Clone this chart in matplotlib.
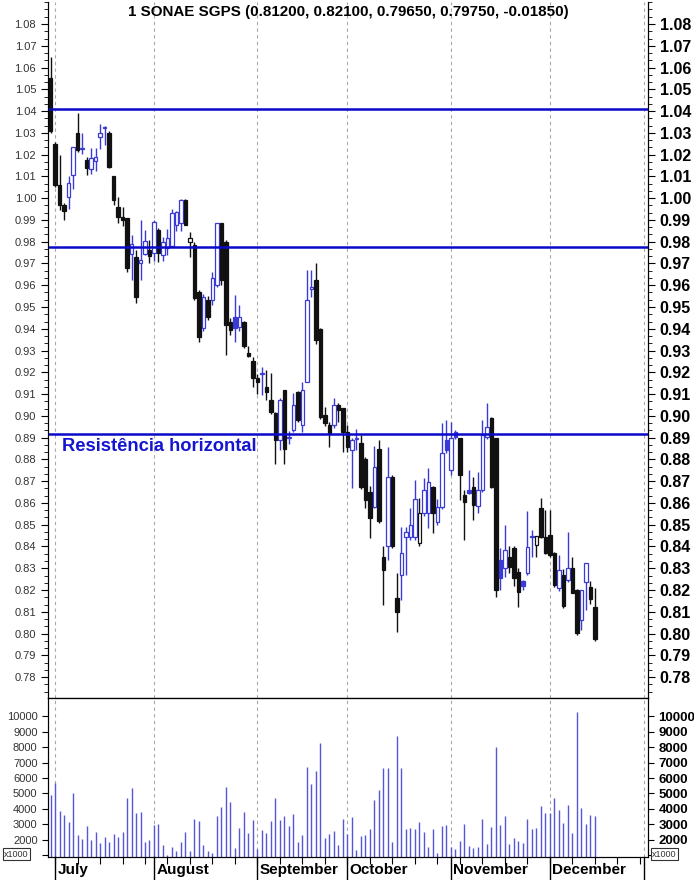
import numpy as np
import matplotlib
import matplotlib.pyplot as plt
from matplotlib.patches import Rectangle
from matplotlib.ticker import FixedLocator, AutoMinorLocator, MultipleLocator
from matplotlib import font_manager
import matplotlib.transforms as mtransforms

plt.rcParams['font.family'] = ['Liberation Sans', 'DejaVu Sans']

# daily candles, 29 Jun -> mid Dec
opens = [1.055, 1.025, 1.006, 0.997, 1.0007, 1.0105, 1.030, 1.0225, 1.0175, 1.0133,
         1.0172, 1.028, 1.0322, 1.030, 1.010, 0.996, 0.9915, 0.991, 0.9745, 0.973,
         0.970, 0.9744, 0.976, 0.9747, 0.9855, 0.974, 0.977, 0.9778, 0.9877, 0.9885,
         0.999, 0.980, 0.9785, 0.957, 0.9402, 0.953, 0.9532, 0.960, 0.9885, 0.980,
         0.943, 0.9456, 0.941, 0.9433, 0.929, 0.925, 0.9173, 0.919, 0.9134, 0.9073,
         0.9012, 0.889, 0.9118, 0.890, 0.8935, 0.9111, 0.8958, 0.9157, 0.9581, 0.9624,
         0.940, 0.9004, 0.8958, 0.8958, 0.905, 0.9034, 0.8927, 0.8843, 0.8893, 0.8875,
         0.880, 0.8652, 0.8583, 0.885, 0.8353, 0.840, 0.872, 0.8162, 0.8269, 0.8445,
         0.8445, 0.8445, 0.8415, 0.8553, 0.8555, 0.8675, 0.8514, 0.8583, 0.8889, 0.8751,
         0.8927, 0.8897, 0.8637, 0.866, 0.8675, 0.8585, 0.866, 0.8904, 0.8989, 0.8897,
         0.8338, 0.830, 0.8353, 0.8392, 0.8284, 0.8243, 0.8277, 0.8445, 0.8405, 0.8575,
         0.8445, 0.8453, 0.8369, 0.8208, 0.8269, 0.8246, 0.830, 0.820, 0.8062, 0.8238,
         0.8215, 0.812]
highs = [1.065, 1.026, 1.020, 0.998, 1.010, 1.0235, 1.039, 1.030, 1.0188, 1.0229,
         1.0229, 1.034, 1.033, 1.031, 1.010, 1.0005, 0.996, 0.991, 0.983, 0.976,
         0.990, 0.9854, 0.9808, 0.990, 0.9865, 0.982, 0.986, 0.995, 0.994, 0.9995,
         0.9995, 0.9846, 0.980, 0.958, 0.956, 0.955, 0.966, 0.9885, 0.9885, 0.981,
         0.945, 0.9555, 0.951, 0.9435, 0.932, 0.927, 0.919, 0.9226, 0.921, 0.9195,
         0.902, 0.908, 0.912, 0.893, 0.9104, 0.9115, 0.9157, 0.967, 0.967, 0.970,
         0.9405, 0.904, 0.897, 0.908, 0.906, 0.9035, 0.896, 0.8897, 0.894, 0.8912,
         0.881, 0.868, 0.886, 0.889, 0.840, 0.8858, 0.873, 0.8277, 0.8491, 0.849,
         0.8575, 0.8705, 0.8621, 0.8713, 0.876, 0.868, 0.862, 0.8966, 0.898, 0.8973,
         0.8935, 0.8897, 0.866, 0.8752, 0.8721, 0.874, 0.8981, 0.906, 0.8995, 0.8897,
         0.8392, 0.8499, 0.840, 0.840, 0.830, 0.8245, 0.8561, 0.8476, 0.8435, 0.8621,
         0.8568, 0.8568, 0.8375, 0.836, 0.8295, 0.8468, 0.835, 0.8205, 0.820, 0.8326,
         0.824, 0.821]
lows = [1.030, 1.005, 0.9945, 0.990, 0.995, 1.004, 1.021, 1.0205, 1.0106, 1.011,
        1.0126, 1.0225, 1.0244, 1.014, 0.997, 0.9887, 0.987, 0.966, 0.9625, 0.952,
        0.9624, 0.974, 0.970, 0.971, 0.9705, 0.971, 0.974, 0.9775, 0.985, 0.985,
        0.9877, 0.973, 0.953, 0.934, 0.939, 0.944, 0.951, 0.959, 0.960, 0.928,
        0.937, 0.934, 0.939, 0.931, 0.927, 0.9133, 0.910, 0.9095, 0.9073, 0.901,
        0.878, 0.8845, 0.878, 0.887, 0.8925, 0.897, 0.8927, 0.9155, 0.9545, 0.933,
        0.8985, 0.8955, 0.8855, 0.8945, 0.897, 0.8835, 0.8835, 0.867, 0.8845, 0.8665,
        0.8577, 0.8439, 0.8575, 0.851, 0.8131, 0.8338, 0.8395, 0.8009, 0.8154, 0.8269,
        0.843, 0.843, 0.840, 0.854, 0.8485, 0.846, 0.850, 0.857, 0.883, 0.873,
        0.8895, 0.8614, 0.843, 0.864, 0.852, 0.8552, 0.865, 0.8895, 0.867, 0.817,
        0.820, 0.826, 0.828, 0.822, 0.8123, 0.820, 0.827, 0.8353, 0.835, 0.844,
        0.8365, 0.835, 0.8215, 0.8195, 0.8116, 0.8235, 0.8185, 0.7995, 0.8016, 0.811,
        0.8135, 0.7965]
closes = [1.031, 1.006, 0.997, 0.994, 1.007, 1.0234, 1.022, 1.023, 1.0137, 1.0183,
          1.0187, 1.030, 1.0326, 1.0145, 0.999, 0.9915, 0.990, 0.968, 0.979, 0.9547,
          0.9715, 0.9805, 0.9734, 0.989, 0.9747, 0.980, 0.9815, 0.993, 0.9938, 0.999,
          0.9877, 0.9815, 0.954, 0.9364, 0.9547, 0.9456, 0.9632, 0.9885, 0.9624, 0.9418,
          0.9395, 0.9402, 0.9456, 0.932, 0.9273, 0.9173, 0.9157, 0.9195, 0.911, 0.902,
          0.889, 0.9073, 0.885, 0.8905, 0.905, 0.898, 0.9118, 0.9532, 0.9593, 0.935,
          0.8997, 0.8966, 0.892, 0.905, 0.9027, 0.8927, 0.8858, 0.8889, 0.8897, 0.8675,
          0.8613, 0.853, 0.8767, 0.8515, 0.8292, 0.872, 0.840, 0.810, 0.8369, 0.8468,
          0.8499, 0.862, 0.8553, 0.866, 0.8698, 0.8555, 0.8583, 0.8828, 0.8843, 0.8897,
          0.8904, 0.8728, 0.8606, 0.8644, 0.859, 0.866, 0.8912, 0.8947, 0.8675, 0.820,
          0.8254, 0.8384, 0.8307, 0.8254, 0.8192, 0.8218, 0.8399, 0.845, 0.8448, 0.8442,
          0.8369, 0.8362, 0.8223, 0.8292, 0.8127, 0.830, 0.8185, 0.8001, 0.820, 0.8326,
          0.816, 0.7975]
volumes = [4900, 5700, 3850, 3630, 3150, 5000, 2300, 2060, 2870, 1980,
           2540, 1780, 2170, 1850, 2390, 2170, 2540, 4720, 5380, 3740,
           3810, 1890, 1960, 2980, 3020, 1670, 1000, 1540, 1280, 1870,
           2480, 1300, 3350, 3200, 1650, 1300, 1130, 3520, 4130, 5400,
           4440, 1450, 2760, 3830, 2440, 3260, 1390, 2610, 2440, 3200,
           4730, 3260, 3520, 2870, 3700, 1850, 2300, 6690, 5600, 6430,
           8300, 2100, 2400, 2560, 1670, 3350, 2370, 3500, 1350, 2260,
           2330, 2700, 4610, 5200, 6620, 6620, 1850, 8710, 6620, 2700,
           2760, 2700, 3130, 2540, 1560, 2700, 1130, 2870, 2930, 1560,
           1390, 1930, 3020, 1600, 1470, 1560, 3350, 1730, 2830, 8000,
           2930, 3570, 1730, 2090, 1930, 1780, 3350, 2700, 2760, 4180,
           3740, 3740, 4680, 3960, 3090, 4280, 2440, 10250, 4050, 3020,
           3590, 3525]

month_names = ['July', 'August', 'September', 'October', 'November', 'December']
month_starts = [1, 23, 46, 66, 89, 111, 132]
mondays = list(range(1, 132, 5))
resistances = [1.041, 0.9775, 0.8915]
title = '1 SONAE SGPS (0.81200, 0.82100, 0.79650, 0.79750, -0.01850)'

BLUE = '#3a3ad8'
BLACK = '#111111'
LINE_BLUE = '#0a0ac8'
VOL_BLUE = '#5656d8'

installed = {f.name for f in font_manager.fontManager.ttflist}
if 'Liberation Sans Narrow' in installed:
    title_font = dict(family=['Liberation Sans Narrow', 'Liberation Sans'], fontsize=13.3)
else:
    title_font = dict(family=['Liberation Sans', 'DejaVu Sans'], fontsize=10.9)

fig = plt.figure(figsize=(6.94, 8.8), dpi=100)
ax = fig.add_axes([48/694, 182/880, 600/694, 696/880])
axv = fig.add_axes([48/694, 23/880, 600/694, 159/880])

xmin, xmax = -0.56, 132.8

# candles
for i in range(len(closes)):
    o, h, l, c = opens[i], highs[i], lows[i], closes[i]
    up = i > 0 and c >= closes[i - 1]
    col = BLUE if up else BLACK
    ax.vlines(i, l, h, color=col, lw=1.0, zorder=2)
    bottom = min(o, c)
    height = max(abs(c - o), 0.0005)
    face = col if c < o else 'white'
    ax.add_patch(Rectangle((i - 0.36, bottom), 0.72, height, facecolor=face,
                           edgecolor=col, lw=0.9, zorder=3))

for lvl in resistances:
    ax.axhline(lvl, color=LINE_BLUE, lw=1.8, zorder=4)

for m in month_starts:
    ax.axvline(m, color='#a8a8a8', lw=0.8, ls=(0, (3, 3)), zorder=1)
    axv.axvline(m, color='#a8a8a8', lw=0.8, ls=(0, (3, 3)), zorder=1)

ax.text(2.6, 0.8858, 'Resistência horizontal', color='#1515d0', fontsize=13.2,
        fontweight='bold', va='center', ha='left', zorder=5)
ax.text(0.5, 0.995, title, transform=ax.transAxes, ha='center', va='top',
        fontweight='bold', color='black', **title_font)

ax.set_xlim(xmin, xmax)
ax.set_ylim(0.7704, 1.0901)
ax.set_xticks([])
ax.spines['top'].set_visible(False)
ax.yaxis.set_major_locator(MultipleLocator(0.01))
ax.yaxis.set_minor_locator(AutoMinorLocator(3))
ticks = np.round(np.arange(0.78, 1.081, 0.01), 2)
ax.set_yticks(ticks)
ax.set_yticklabels([f'{t:.2f}' for t in ticks])
ax.tick_params(axis='y', which='major', length=5, labelsize=8, labelcolor='#333333')
ax.tick_params(axis='y', which='minor', length=3)

axr = ax.twinx()
axr.set_ylim(ax.get_ylim())
axr.set_yticks(ticks)
axr.set_yticklabels([f'{t:.2f}' for t in ticks])
axr.yaxis.set_minor_locator(AutoMinorLocator(3))
axr.tick_params(axis='y', which='major', length=5, labelsize=11.5)
axr.tick_params(axis='y', which='minor', length=3)
for lab in axr.get_yticklabels():
    lab.set_fontweight('bold')
axr.spines['top'].set_visible(False)

# volume
x = np.arange(len(volumes))
axv.vlines(x, 0, volumes, color=VOL_BLUE, lw=1.0, zorder=2)
axv.set_xlim(xmin, xmax)
axv.set_ylim(890, 11180)
vt = list(range(1000, 11000, 1000))
vlabels = ['' if v == 1000 else str(v) for v in vt]
axv.set_yticks(vt)
axv.set_yticklabels(vlabels)
axv.tick_params(axis='y', length=4, labelsize=8, labelcolor='#333333')
axv.set_xticks(mondays)
axv.set_xticklabels([])
axv.tick_params(axis='x', length=5)

axvr = axv.twinx()
axvr.set_ylim(axv.get_ylim())
axvr.set_yticks(vt)
axvr.set_yticklabels(vlabels)
axvr.tick_params(axis='y', length=4, labelsize=9.5)
for lab in axvr.get_yticklabels():
    lab.set_fontweight('bold')

trans = mtransforms.blended_transform_factory(axv.transData, axv.transAxes)
for m in month_starts:
    axv.plot([m, m], [0, -0.16], transform=trans, color='black', lw=1, clip_on=False)
for m, name in zip(month_starts, month_names):
    axv.text(m + 0.5, -0.035, name, transform=trans, ha='left', va='top',
             fontsize=11, fontweight='bold')

box = dict(boxstyle='square,pad=0.15', fc='white', ec='#333333', lw=0.8)
fig.text(4/694, 26/880, 'x1000', fontsize=6.5, color='#333333', va='center', bbox=box)
fig.text(652/694, 26/880, 'x1000', fontsize=6.5, color='#333333', va='center', bbox=box)

fig.savefig('out.png', dpi=100)
